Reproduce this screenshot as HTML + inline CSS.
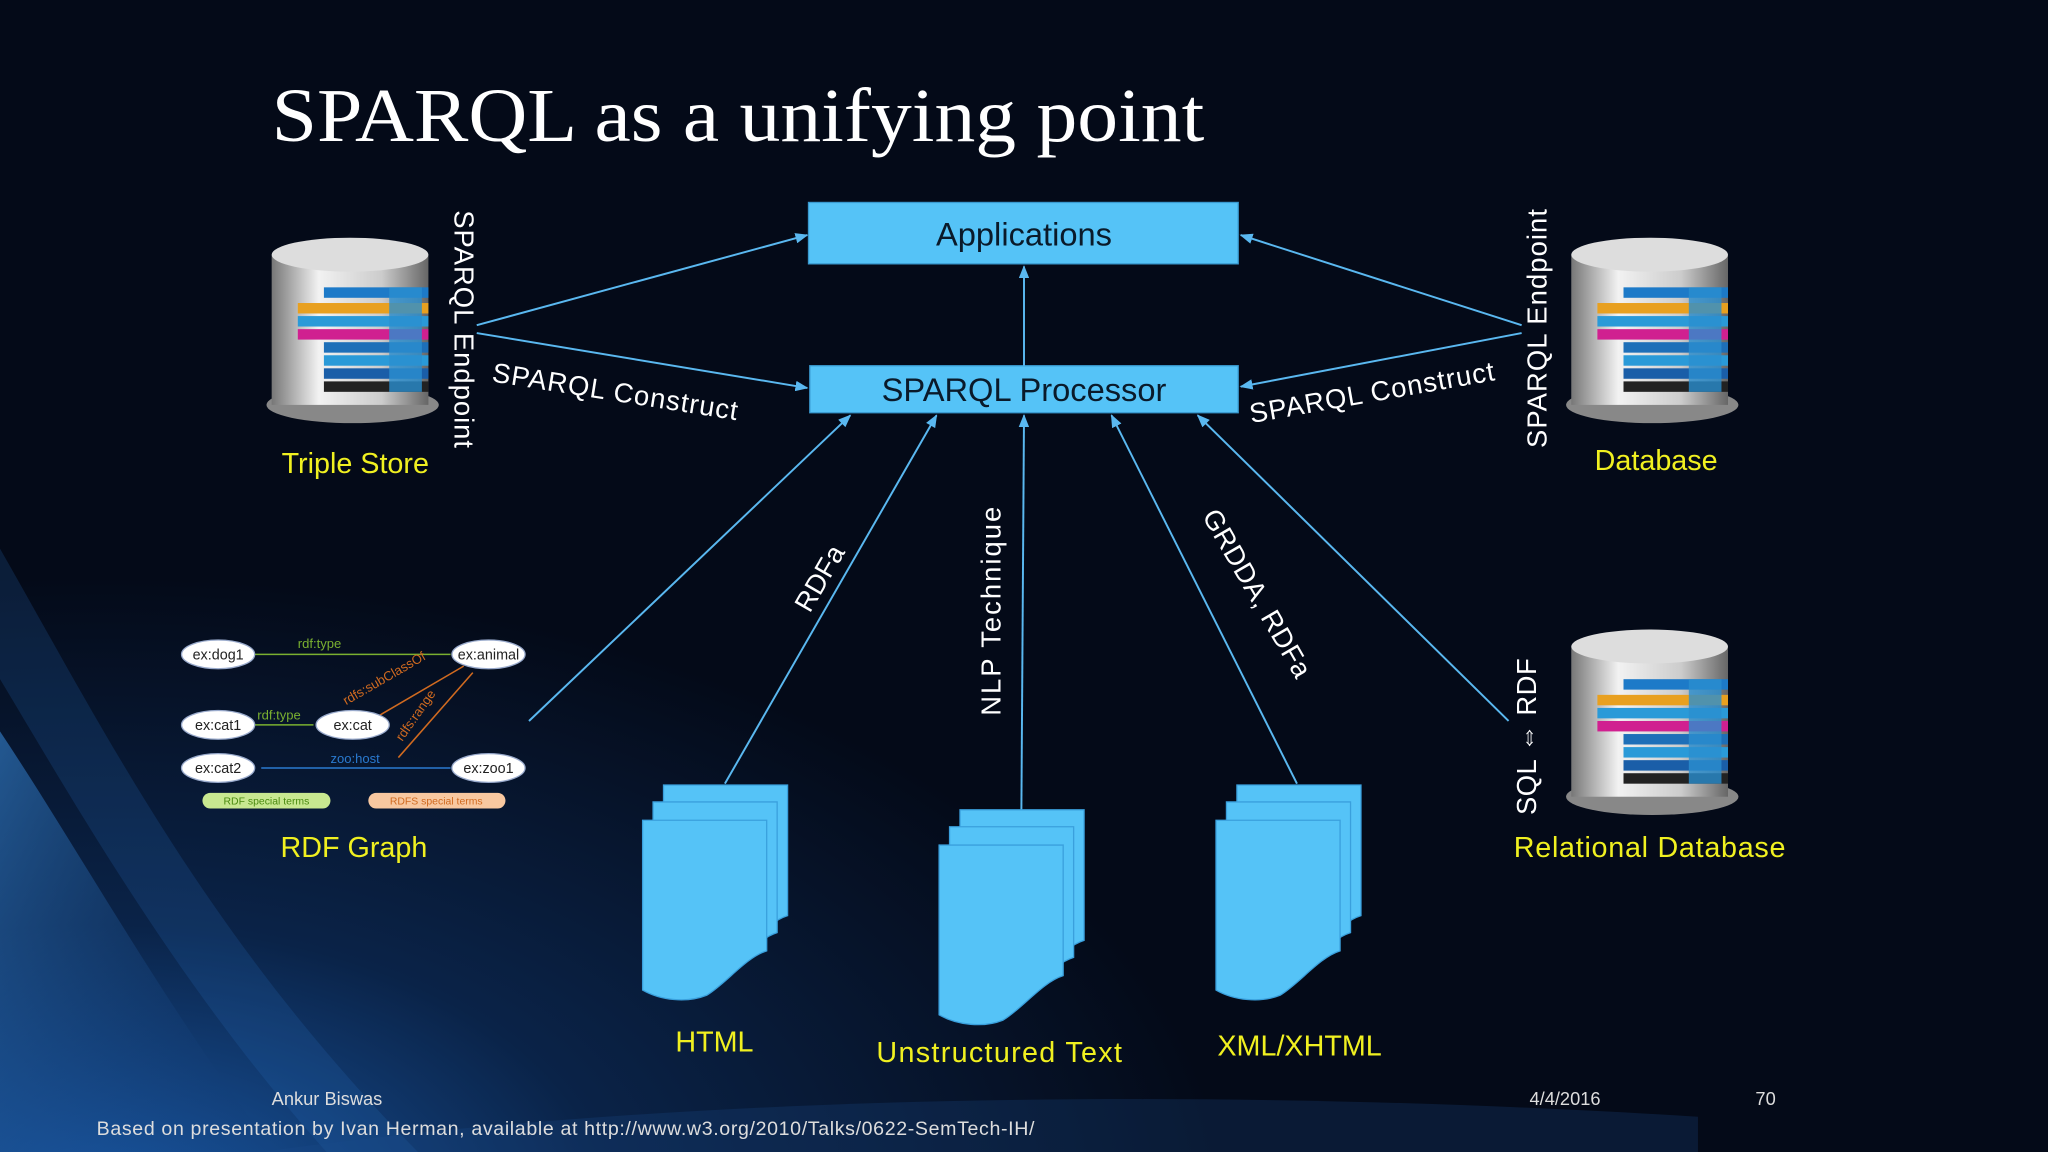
<!DOCTYPE html>
<html><head><meta charset="utf-8"><style>
html,body{margin:0;padding:0;background:#040a18;}
svg{display:block}
text{font-family:"Liberation Sans",sans-serif}
</style></head><body>
<svg width="2048" height="1152" viewBox="0 0 1568 882" xmlns="http://www.w3.org/2000/svg">
<defs>
<radialGradient id="bg" cx="0.05" cy="1.05" r="0.55">
<stop offset="0" stop-color="#1a5aa8"/><stop offset="0.45" stop-color="#0a2348"/><stop offset="1" stop-color="#040a18"/>
</radialGradient>
<linearGradient id="sw" x1="0" y1="0" x2="1" y2="1">
<stop offset="0" stop-color="#3a8ee0" stop-opacity="0.8"/><stop offset="1" stop-color="#0b2d63" stop-opacity="0"/>
</linearGradient>
<linearGradient id="cyl" x1="0" x2="1">
<stop offset="0" stop-color="#777"/><stop offset="0.3" stop-color="#f2f2f2"/><stop offset="0.7" stop-color="#ccc"/><stop offset="1" stop-color="#666"/>
</linearGradient>
<marker id="ar" markerWidth="10" markerHeight="8" refX="9" refY="4" orient="auto" markerUnits="userSpaceOnUse">
<path d="M0,0 L10,4 L0,8 Z" fill="#5ab8f0"/></marker>
<g id="db">
<ellipse cx="67" cy="130" rx="66" ry="14" fill="#888"/>
<rect x="5" y="15" width="120" height="115" fill="url(#cyl)"/>
<ellipse cx="65" cy="15" rx="60" ry="13" fill="#ddd"/>
<rect x="45" y="40" width="80" height="8" fill="#1d7ac8"/>
<rect x="25" y="52" width="100" height="8" fill="#e8a020"/>
<rect x="25" y="62" width="100" height="8" fill="#2a9ad8"/>
<rect x="25" y="72" width="100" height="8" fill="#d02090"/>
<rect x="45" y="82" width="80" height="8" fill="#1e6fb8"/>
<rect x="45" y="92" width="80" height="8" fill="#2a9ad8"/>
<rect x="45" y="102" width="80" height="8" fill="#1a5ea8"/>
<rect x="45" y="112" width="80" height="8" fill="#222"/>
<rect x="95" y="40" width="25" height="80" fill="#2a8fd0" opacity="0.8"/>
</g>
<g id="doc">
<path d="M16,0 H111 V100 C95,105 80,125 65,134 C50,140 30,138 16,130 Z" fill="#55c3f7" stroke="#3aa0dd"/>
<path d="M8,13 H103 V113 C87,118 72,138 57,147 C42,153 22,151 8,143 Z" fill="#55c3f7" stroke="#3aa0dd"/>
<path d="M0,27 H95 V127 C79,132 64,152 49,161 C34,167 14,165 0,157 Z" fill="#55c3f7" stroke="#3aa0dd"/>
</g>
</defs>
<rect width="1568" height="882" fill="#040a18"/>
<rect width="1568" height="882" fill="url(#bg)"/>
<path d="M0,560 C60,650 120,760 210,882 L0,882 Z" fill="url(#sw)" opacity="0.7"/>
<path d="M0,420 C80,560 160,720 320,882 L250,882 C140,760 60,620 0,520 Z" fill="#2a6cc0" opacity="0.2"/>
<path d="M200,882 C500,840 900,830 1300,855 L1300,882 Z" fill="#1a4c8a" opacity="0.25"/>

<text x="208" y="108" font-size="58" fill="#fff" textLength="714" lengthAdjust="spacingAndGlyphs" style="font-family:'Liberation Serif',serif">SPARQL as a unifying point</text>

<rect x="619" y="155" width="329" height="47" fill="#55c3f7" stroke="#3a9ad0"/>
<text x="784" y="188" font-size="25" fill="#0a1a2a" text-anchor="middle">Applications</text>
<rect x="620" y="280" width="328" height="36" fill="#55c3f7" stroke="#3a9ad0"/>
<text x="784" y="307" font-size="25" fill="#0a1a2a" text-anchor="middle">SPARQL Processor</text>

<g stroke="#5ab8f0" stroke-width="1.5" fill="none" marker-end="url(#ar)">
<line x1="365" y1="249" x2="618" y2="180"/>
<line x1="365" y1="255" x2="618" y2="297"/>
<line x1="1165" y1="249" x2="950" y2="180"/>
<line x1="1165" y1="255" x2="950" y2="296"/>
<line x1="784" y1="280" x2="784" y2="204"/>
<line x1="405" y1="552" x2="651" y2="318"/>
<line x1="555" y1="600" x2="717" y2="318"/>
<line x1="782" y1="620" x2="784" y2="318"/>
<line x1="993" y1="600" x2="851" y2="318"/>
<line x1="1155" y1="552" x2="917" y2="318"/>
</g>

<g fill="#fff" font-size="21">
<text transform="translate(376,292) rotate(9)" textLength="190">SPARQL Construct</text>
<text transform="translate(958,324) rotate(-10)" textLength="190">SPARQL Construct</text>
<text transform="translate(348,161) rotate(90)" textLength="182">SPARQL Endpoint</text>
<text transform="translate(1184,343) rotate(-90)" textLength="183">SPARQL Endpoint</text>
<text transform="translate(620,470) rotate(-60)">RDFa</text>
<text transform="translate(766,548) rotate(-90)" textLength="160">NLP  Technique</text>
<text transform="translate(920,395) rotate(60)" textLength="145">GRDDA, RDFa</text>
<text transform="translate(1176,624) rotate(-90)" textLength="120">SQL ⇔ RDF</text>
</g>

<use href="#db" transform="translate(203,180)"/>
<use href="#db" transform="translate(1198,180)"/>
<use href="#db" transform="translate(1198,480)"/>

<use href="#doc" transform="translate(492,601)"/>
<use href="#doc" transform="translate(719,620)"/>
<use href="#doc" transform="translate(931,601)"/>

<g font-size="11">
<g stroke="#7ab030" stroke-width="1.2"><line x1="195" y1="501" x2="345" y2="501"/><line x1="195" y1="555" x2="240" y2="555"/></g>
<g stroke="#d06a20" stroke-width="1.2"><line x1="290" y1="548" x2="355" y2="510"/><line x1="305" y1="580" x2="362" y2="515"/></g>
<line x1="200" y1="588" x2="345" y2="588" stroke="#2a7ad0" stroke-width="1.2"/>
<g fill="#fff" stroke="#9ac" stroke-width="1">
<ellipse cx="167" cy="501" rx="28" ry="11"/><ellipse cx="374" cy="501" rx="28" ry="11"/>
<ellipse cx="167" cy="555" rx="28" ry="11"/><ellipse cx="270" cy="555" rx="28" ry="11"/>
<ellipse cx="167" cy="588" rx="28" ry="11"/><ellipse cx="374" cy="588" rx="28" ry="11"/>
</g>
<g fill="#222" text-anchor="middle">
<text x="167" y="505">ex:dog1</text><text x="374" y="505">ex:animal</text>
<text x="167" y="559">ex:cat1</text><text x="270" y="559">ex:cat</text>
<text x="167" y="592">ex:cat2</text><text x="374" y="592">ex:zoo1</text>
</g>
<text x="228" y="496" fill="#7ab030" font-size="10">rdf:type</text>
<text x="197" y="551" fill="#7ab030" font-size="10">rdf:type</text>
<text x="253" y="584" fill="#2a7ad0" font-size="10">zoo:host</text>
<text transform="translate(265,540) rotate(-30)" fill="#d06a20" font-size="10">rdfs:subClassOf</text>
<text transform="translate(308,568) rotate(-55)" fill="#d06a20" font-size="10">rdfs:range</text>
<rect x="155" y="607" width="98" height="12" rx="6" fill="#c8e890"/>
<rect x="282" y="607" width="105" height="12" rx="6" fill="#f8c8a0"/>
<text x="204" y="616" font-size="8" fill="#4a8a10" text-anchor="middle">RDF special terms</text>
<text x="334" y="616" font-size="8" fill="#d06a20" text-anchor="middle">RDFS special terms</text>
</g>

<g fill="#f0f020" font-size="22" text-anchor="middle">
<text x="272" y="362">Triple Store</text>
<text x="1268" y="360">Database</text>
<text x="271" y="656">RDF Graph</text>
<text x="1263" y="656" textLength="208">Relational Database</text>
<text x="547" y="805">HTML</text>
<text x="765" y="813" textLength="188">Unstructured Text</text>
<text x="995" y="808">XML/XHTML</text>
</g>

<g fill="#ddd" font-size="14">
<text x="208" y="846">Ankur Biswas</text>
<text x="1171" y="846">4/4/2016</text>
<text x="1344" y="846">70</text>
<text x="74" y="869" font-size="15" textLength="718">Based on presentation by Ivan Herman, available at http://www.w3.org/2010/Talks/0622-SemTech-IH/</text>
</g>
</svg>
</body></html>
